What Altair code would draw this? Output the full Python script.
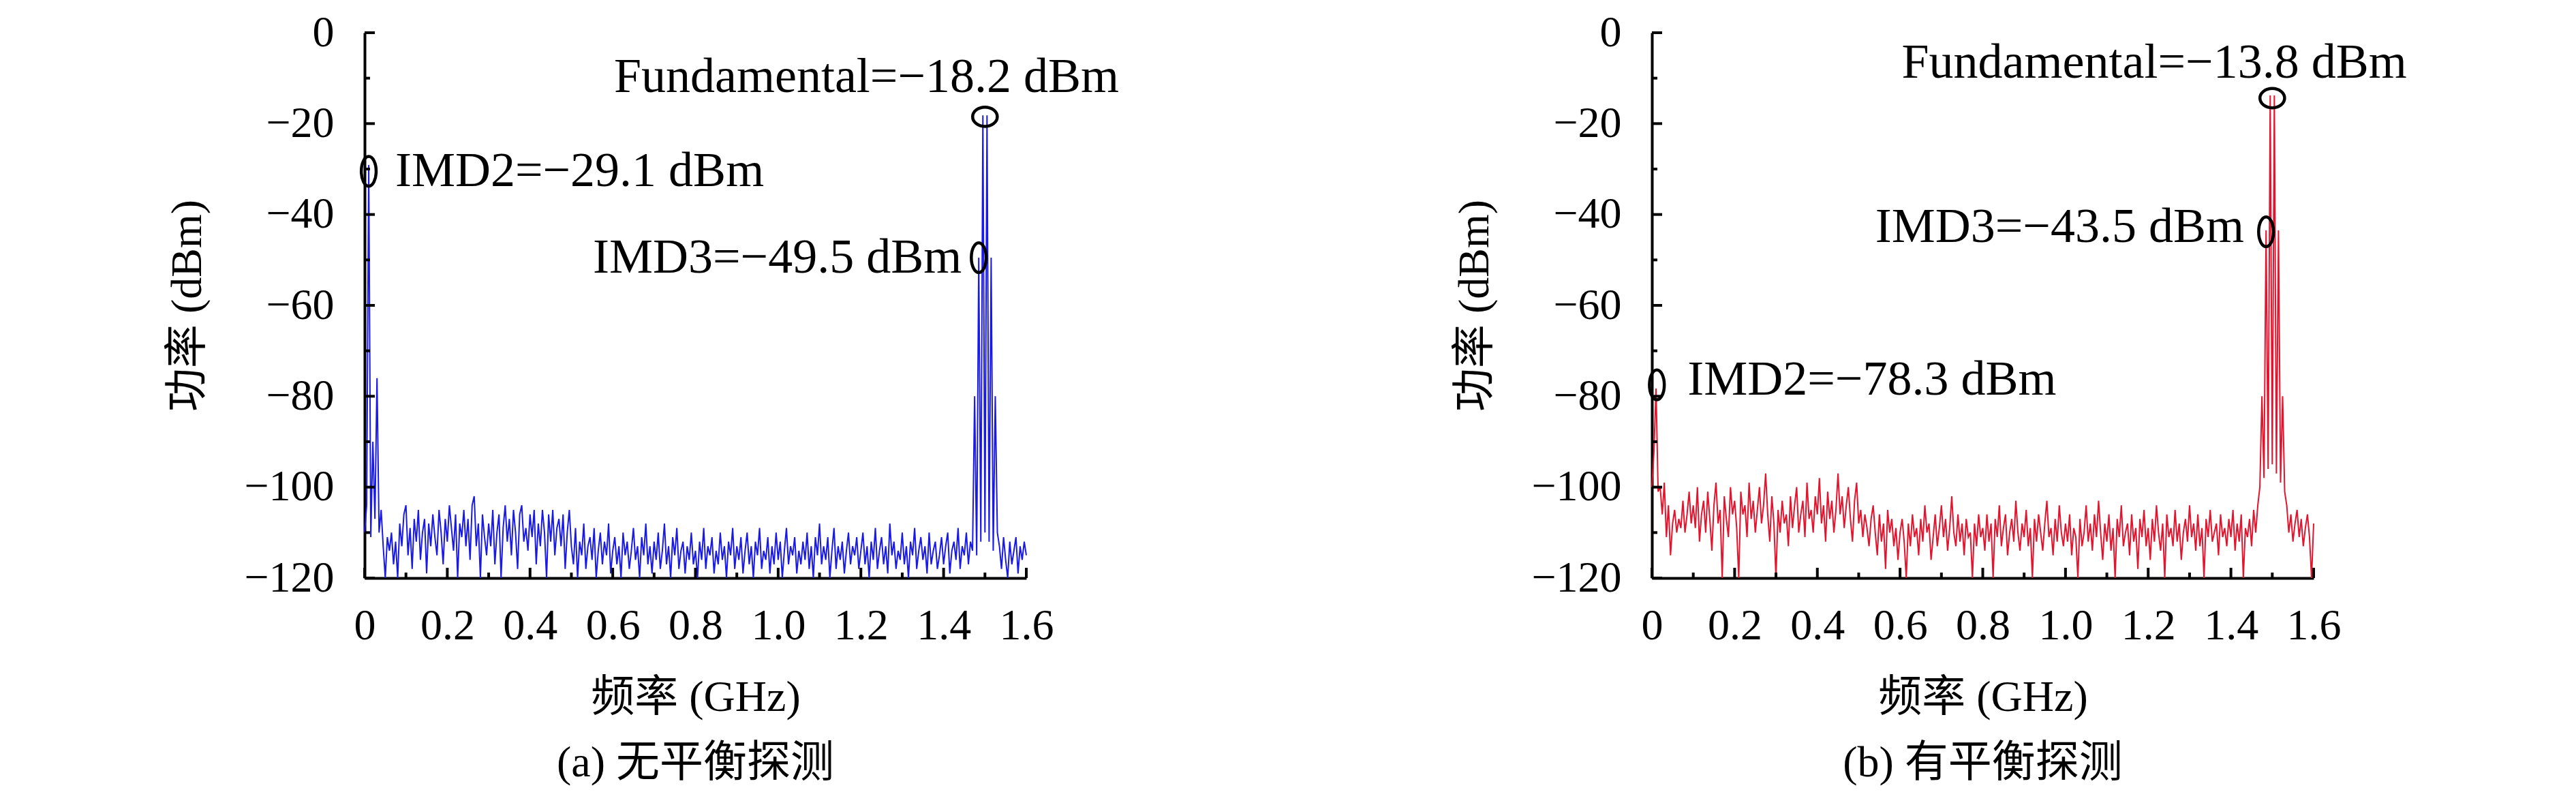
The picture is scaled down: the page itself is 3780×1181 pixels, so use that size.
import altair as alt
import pandas as pd

# ---------------- data ----------------
F_STEP_GHZ = 0.005  # frequency grid step of the spectra (GHz)

# (a) without balanced detection, dBm, one value per grid point from 0 to 1.6 GHz
power_a = [
    -110, -104, -29.1, -111, -90, -107, -76, -110, -105, -113, -120, -111, -114, -110, -117, -112, -120, -108, -113, -106,
    -104, -115, -109, -118, -107, -112, -105, -116, -110, -107, -119, -108, -113, -106, -111, -115, -105, -110, -117, -107,
    -112, -104, -109, -114, -106, -120, -108, -111, -105, -113, -107, -116, -104, -102, -113, -108, -120, -106, -111, -115,
    -108, -113, -105, -117, -110, -106, -120, -109, -104, -112, -107, -115, -105, -110, -118, -106, -104, -112, -109, -114,
    -106, -111, -105, -117, -108, -113, -105, -110, -120, -106, -112, -105, -115, -109, -107, -113, -106, -118, -110, -105,
    -113, -117, -109, -120, -112, -115, -108, -118, -113, -111, -116, -109, -120, -114, -110, -117, -112, -115, -108, -119,
    -114, -111, -117, -113, -120, -110, -115, -112, -118, -114, -109, -116, -113, -120, -111, -115, -108, -117, -113, -119,
    -112, -116, -110, -118, -114, -108, -117, -113, -120, -111, -115, -109, -118, -114, -112, -119, -113, -116, -110, -117,
    -114, -120, -112, -116, -109, -118, -113, -115, -111, -119, -114, -117, -110, -116, -113, -120, -112, -115, -109, -118,
    -113, -116, -111, -119, -114, -110, -117, -113, -120, -112, -115, -109, -118, -114, -116, -111, -119, -113, -117, -110,
    -116, -112, -120, -114, -109, -117, -113, -115, -111, -119, -114, -117, -112, -116, -110, -118, -113, -120, -111, -115,
    -108, -117, -113, -116, -111, -120, -114, -109, -118, -113, -116, -112, -119, -114, -110, -117, -113, -115, -111, -118,
    -114, -110, -117, -113, -120, -112, -116, -109, -118, -114, -111, -117, -113, -119, -108, -115, -112, -118, -114, -116,
    -110, -117, -113, -120, -112, -115, -109, -118, -114, -111, -116, -113, -119, -110, -117, -114, -112, -118, -115, -111,
    -117, -113, -110, -119, -114, -112, -116, -109, -118, -113, -115, -110, -117, -112,
    -114, -80, -115, -49.5, -112, -18.2, -110, -18.2, -112, -49.5, -114, -80, -110,
    -113, -118, -111, -116, -120, -112, -117, -114, -111, -119, -113, -116, -112, -115,
]

# (b) with balanced detection
power_b = [
    -100, -92, -78.3, -101, -100, -106, -99, -111, -104, -115, -108, -105, -110, -107, -109, -103, -110, -106, -101, -108,
    -104, -109, -100, -112, -106, -103, -110, -101, -107, -114, -104, -99, -108, -105, -120, -102, -107, -111, -100, -106,
    -103, -109, -120, -101, -106, -104, -111, -99, -107, -103, -110, -105, -100, -108, -104, -97, -106, -112, -102, -108,
    -120, -105, -110, -103, -108, -106, -113, -102, -109, -104, -100, -110, -106, -103, -111, -99, -107, -105, -110, -102,
    -106, -98, -108, -104, -112, -101, -107, -103, -110, -105, -97, -106, -102, -109, -104, -100, -107, -112, -103, -99,
    -108, -105, -111, -106, -109, -113, -107, -104, -110, -115, -106, -112, -108, -118, -105, -110, -107, -113, -109, -116,
    -110, -107, -112, -120, -108, -113, -106, -111, -109, -115, -107, -112, -104, -110, -108, -116, -111, -106, -113, -109,
    -104, -111, -107, -114, -109, -102, -110, -113, -106, -112, -108, -115, -107, -111, -110, -120, -108, -113, -106, -111,
    -109, -114, -106, -112, -108, -120, -107, -111, -104, -113, -109, -106, -115, -110, -107, -112, -103, -110, -114, -108,
    -111, -105, -113, -109, -120, -107, -112, -106, -110, -114, -108, -103, -111, -109, -115, -107, -112, -104, -110, -113,
    -108, -112, -106, -115, -109, -111, -120, -107, -113, -110, -104, -112, -108, -114, -106, -111, -103, -110, -116, -108,
    -112, -106, -114, -109, -120, -107, -111, -104, -113, -110, -108, -115, -106, -112, -109, -118, -107, -111, -105, -113,
    -109, -116, -107, -112, -104, -110, -114, -108, -120, -106, -111, -109, -113, -105, -112, -108, -116, -110, -107, -112,
    -104, -111, -108, -114, -106, -113, -109, -120, -107, -111, -105, -112, -110, -108, -115, -106, -111, -109, -113, -107,
    -111, -105, -114, -108, -112, -106, -120, -109, -111, -107, -113, -105, -110, -104,
    -100, -80, -98, -43.5, -96, -13.8, -95, -13.8, -97, -43.5, -99, -80, -101,
    -104, -110, -106, -112, -108, -105, -111, -107, -113, -109, -106, -111, -120, -108,
]

x_major = [0, 0.2, 0.4, 0.6, 0.8, 1.0, 1.2, 1.4, 1.6]
x_minor = [0.1, 0.3, 0.5, 0.7, 0.9, 1.1, 1.3, 1.5]
y_major = [0, -20, -40, -60, -80, -100, -120]
y_minor = [-10, -30, -50, -70, -90, -110]

ann_a_text = ["Fundamental=\u221218.2 dBm", "IMD2=\u221229.1 dBm", "IMD3=\u221249.5 dBm"]
ann_a_x = [0.603, 0.074, 0.552]
ann_a_y = [-9.8, -30.5, -49.5]
ell_a_x = [1.500, 0.010, 1.485]
ell_a_y = [-18.5, -30.5, -49.5]
ell_a_kind = ["h", "v", "v"]

ann_b_text = ["Fundamental=\u221213.8 dBm", "IMD3=\u221243.5 dBm", "IMD2=\u221278.3 dBm"]
ann_b_x = [0.604, 0.540, 0.086]
ann_b_y = [-6.6, -42.8, -76.4]
ell_b_x = [1.500, 1.485, 0.012]
ell_b_y = [-14.4, -43.8, -77.5]
ell_b_kind = ["h", "v", "v"]

captions = ["(a) 无平衡探测", "(b) 有平衡探测"]
colors = ["#1a1ae6", "#e3142d"]

# ---------------- style ----------------
FONT = "Liberation Serif, Noto Sans CJK SC, serif"
FS = 64
FS_ANN = 72
W, H = 971, 800
ELL_H = "M -0.83 0 A 0.83 0.65 0 1 0 0.83 0 A 0.83 0.65 0 1 0 -0.83 0 Z"
ELL_V = "M -0.5 0 A 0.5 1 0 1 0 0.5 0 A 0.5 1 0 1 0 -0.5 0 Z"


def panel(power, color, texts, tx, ty, ex, ey, ek, caption):
    freq = [round(i * F_STEP_GHZ, 4) for i in range(len(power))]
    df = pd.DataFrame({"freq": freq, "power": power})
    xs = alt.Scale(domain=[0, 1.6], nice=False, zero=False)
    ys = alt.Scale(domain=[-120, 0], nice=False, zero=False)
    line = alt.Chart(df).mark_line(color=color, strokeWidth=2).encode(
        x=alt.X("freq:Q", scale=xs, axis=alt.Axis(
            values=x_major, title="频率 (GHz)",
            labelExpr="datum.value == 0 ? '0' : format(datum.value, '.1f')")),
        y=alt.Y("power:Q", scale=ys, axis=alt.Axis(values=y_major, title="功率 (dBm)")),
    )
    yt_major = alt.Chart(pd.DataFrame({"power": y_major})).mark_rule(
        color="black", strokeWidth=4).encode(y="power:Q", x=alt.value(0), x2=alt.value(15))
    yt_minor = alt.Chart(pd.DataFrame({"power": y_minor})).mark_rule(
        color="black", strokeWidth=4).encode(y="power:Q", x=alt.value(0), x2=alt.value(8))
    xt_major = alt.Chart(pd.DataFrame({"freq": x_major})).mark_rule(
        color="black", strokeWidth=4).encode(x="freq:Q", y=alt.value(H), y2=alt.value(H - 15))
    xt_minor = alt.Chart(pd.DataFrame({"freq": x_minor})).mark_rule(
        color="black", strokeWidth=4).encode(x="freq:Q", y=alt.value(H), y2=alt.value(H - 8))
    ell = alt.Chart(pd.DataFrame({"freq": ex, "power": ey, "kind": ek})).mark_point(
        filled=False, color="black", strokeWidth=4.5, size=1900, opacity=1).encode(
        x="freq:Q", y="power:Q",
        shape=alt.Shape("kind:N", scale=alt.Scale(domain=["h", "v"], range=[ELL_H, ELL_V]), legend=None))
    txt = alt.Chart(pd.DataFrame({"freq": tx, "power": ty, "label": texts})).mark_text(
        align="left", baseline="middle", font=FONT, fontSize=FS_ANN, color="black").encode(
        x="freq:Q", y="power:Q", text="label:N")
    return alt.layer(line, yt_major, yt_minor, xt_major, xt_minor, ell, txt).properties(
        width=W, height=H,
        title=alt.TitleParams(caption, orient="bottom", anchor="middle", frame="group", offset=33))


left = panel(power_a, colors[0], ann_a_text, ann_a_x, ann_a_y, ell_a_x, ell_a_y, ell_a_kind, captions[0])
right = panel(power_b, colors[1], ann_b_text, ann_b_x, ann_b_y, ell_b_x, ell_b_y, ell_b_kind, captions[1])

chart = alt.hconcat(left, right, spacing=489).configure_axis(
    labelFont=FONT, labelFontSize=FS, titleFont=FONT, titleFontSize=FS, titleFontWeight="normal",
    labelColor="black", titleColor="black", domainColor="black", domainWidth=4,
    ticks=False, tickSize=0, grid=False, zindex=1, labelFlush=False, labelOverlap=False,
).configure_axisY(labelPadding=45, titlePadding=50).configure_axisX(
    labelPadding=38, titlePadding=41
).configure_view(stroke=None).configure_title(
    font=FONT, fontSize=FS, fontWeight="normal", color="black"
).properties(padding={"left": 235, "top": 8, "right": 5, "bottom": 5}, background="white")

chart.save("out.html", embed_options={"renderer": "svg", "actions": False})
